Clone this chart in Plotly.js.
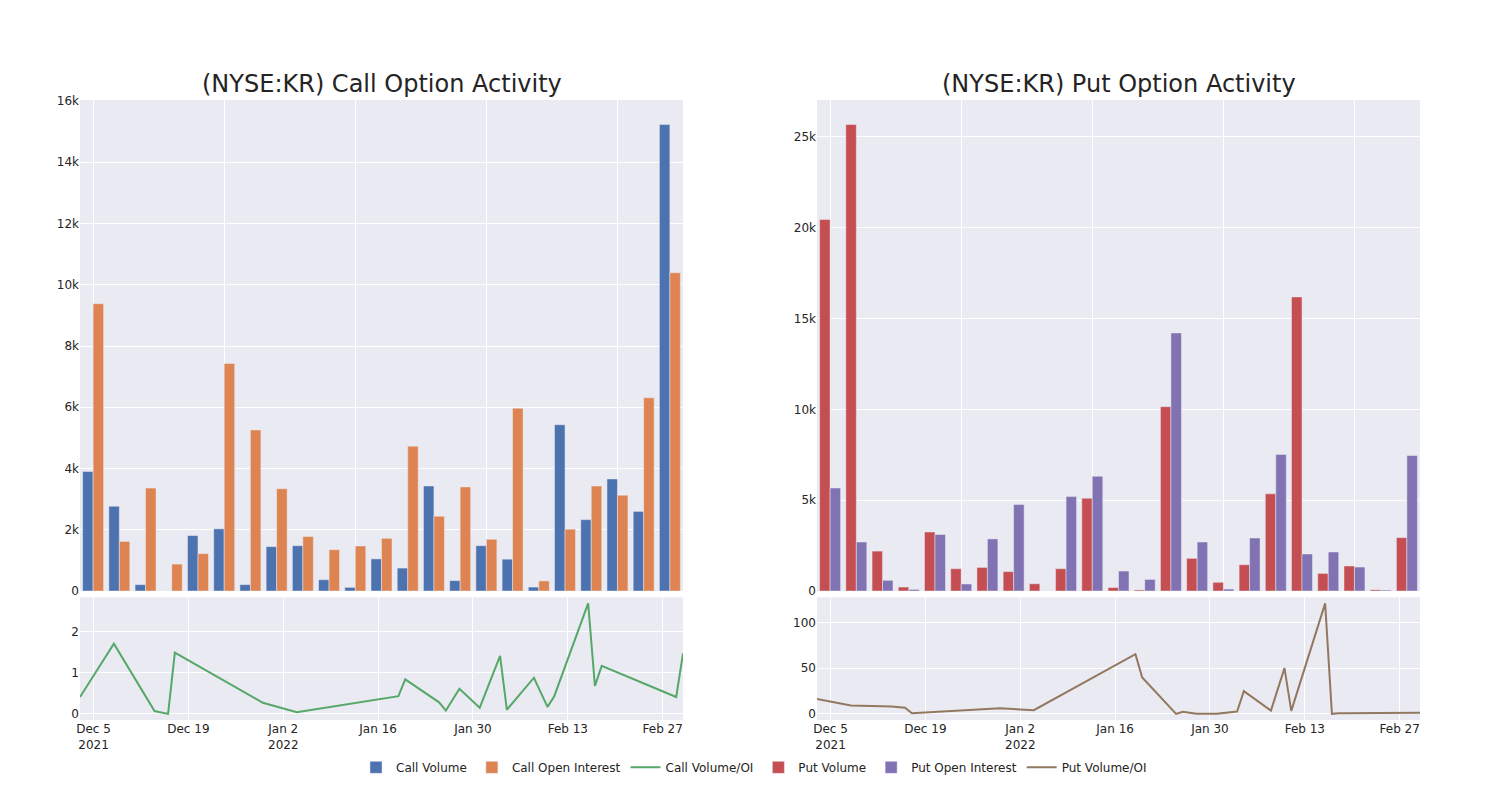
<!DOCTYPE html>
<html>
<head>
<meta charset="utf-8">
<script src="https://cdn.plot.ly/plotly-3.0.1.min.js"></script>
<style>html,body{margin:0;padding:0;background:#fff;}#chart{width:1500px;height:800px;}</style>
</head>
<body>
<div id="chart"></div>
<script>
const dates = ['2021-12-03','2021-12-08','2021-12-14','2021-12-16','2021-12-17','2021-12-30','2022-01-04','2022-01-19','2022-01-20','2022-01-25','2022-01-26','2022-01-28','2022-01-31','2022-02-03','2022-02-04','2022-02-08','2022-02-10','2022-02-11','2022-02-16','2022-02-17','2022-02-18','2022-03-01','2022-03-02'];

const callVolume = [3900,2770,210,0,1810,2030,210,1450,1480,370,120,1050,750,3430,340,1480,1040,130,5430,2330,3660,2600,15230];
const callOpenInterest = [9380,1620,3360,880,1220,7430,5260,3340,1780,1350,1470,1720,4730,2440,3400,1690,5970,330,2020,3430,3130,6310,10390];
const callRatio = [0.41,1.71,0.07,0.0,1.49,0.27,0.04,0.43,0.84,0.28,0.08,0.61,0.15,1.41,0.10,0.88,0.17,0.43,2.69,0.68,1.17,0.41,1.47];

const putVolume = [20450,25680,2200,220,3250,1230,1300,1070,400,1230,5110,190,60,10150,1800,480,1450,5350,16190,970,1380,70,2940];
const putOpenInterest = [5670,2700,590,90,3110,390,2870,4760,0,5200,6320,1100,640,14210,2700,110,2920,7520,2040,2150,1320,55,7460];
const putRatio = [16.4,9.1,8.0,6.6,0.7,6.2,4.0,65.3,39.8,0,2.2,0,0,2.6,24.8,3.6,50,3.3,120.8,0,0.7,1.1,1.1];

const titles = ['(NYSE:KR) Call Option Activity', '(NYSE:KR) Put Option Activity'];

const barLine = {color: 'rgb(234,234,242)', width: 0.5};
const traces = [
  {type:'bar', name:'Call Volume', x:dates, y:callVolume, xaxis:'x', yaxis:'y', marker:{color:'#4C72B0', line:barLine}},
  {type:'bar', name:'Call Open Interest', x:dates, y:callOpenInterest, xaxis:'x', yaxis:'y', marker:{color:'#DD8452', line:barLine}},
  {type:'scatter', mode:'lines', name:'Call Volume/OI', x:dates, y:callRatio, xaxis:'x3', yaxis:'y3', line:{color:'#55A868', width:2}},
  {type:'bar', name:'Put Volume', x:dates, y:putVolume, xaxis:'x2', yaxis:'y2', marker:{color:'#C44E52', line:barLine}},
  {type:'bar', name:'Put Open Interest', x:dates, y:putOpenInterest, xaxis:'x2', yaxis:'y2', marker:{color:'#8172B3', line:barLine}},
  {type:'scatter', mode:'lines', name:'Put Volume/OI', x:dates, y:putRatio, xaxis:'x4', yaxis:'y4', line:{color:'#937860', width:2}}
];

const grid = {showgrid:true, gridcolor:'white', gridwidth:1, zeroline:true, zerolinecolor:'white', zerolinewidth:1, showline:false, ticks:'', automargin:false, tickfont:{size:12}};
const leftDom = [0, 0.45], rightDom = [0.55, 1];
const topDom = [0.208, 1], botDom = [0, 0.198];

const layout = {
  width:1500, height:800,
  margin:{l:80, r:80, t:100, b:80},
  paper_bgcolor:'white', plot_bgcolor:'rgb(234,234,242)',
  font:{family:'DejaVu Sans, sans-serif', size:12, color:'rgb(36,36,36)'},
  barmode:'group', bargap:0.2, bargroupgap:0,
  showlegend:true,
  legend:{orientation:'h', x:0.503, xanchor:'center', y:-0.053, yanchor:'top', font:{size:12}},
  xaxis: Object.assign({}, grid, {domain:leftDom, anchor:'y', type:'category', showticklabels:false, tickmode:'linear', tick0:0, dtick:5}),
  yaxis: Object.assign({}, grid, {domain:topDom, anchor:'x'}),
  xaxis2: Object.assign({}, grid, {domain:rightDom, anchor:'y2', type:'category', showticklabels:false, tickmode:'linear', tick0:0, dtick:5}),
  yaxis2: Object.assign({}, grid, {domain:topDom, anchor:'x2'}),
  xaxis3: Object.assign({}, grid, {domain:leftDom, anchor:'y3', type:'date'}),
  yaxis3: Object.assign({}, grid, {domain:botDom, anchor:'x3'}),
  xaxis4: Object.assign({}, grid, {domain:rightDom, anchor:'y4', type:'date'}),
  yaxis4: Object.assign({}, grid, {domain:botDom, anchor:'x4'}),
  annotations: [
    {text:titles[0], xref:'paper', yref:'paper', x:(leftDom[0]+leftDom[1])/2, y:1, xanchor:'center', yanchor:'bottom', showarrow:false, font:{size:24}},
    {text:titles[1], xref:'paper', yref:'paper', x:(rightDom[0]+rightDom[1])/2, y:1, xanchor:'center', yanchor:'bottom', showarrow:false, font:{size:24}}
  ]
};

Plotly.newPlot('chart', traces, layout, {displayModeBar:false, staticPlot:true});
</script>
</body>
</html>
